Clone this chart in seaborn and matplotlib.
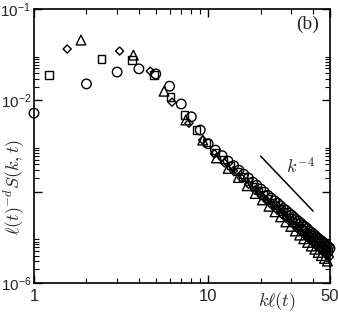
import numpy as np
import matplotlib
matplotlib.use("Agg")
import matplotlib.pyplot as plt
import matplotlib.ticker as mticker
import seaborn as sns

# --- datos (kl(t), log10 de l(t)^-d S(k,t)) ---
circle_k = [1, 2, 3, 4, 5, 6, 7, 8, 9, 10, 11, 12, 13, 14, 15, 16, 17, 18, 19, 20,
            21, 22, 23, 24, 25, 26, 27, 28, 29, 30, 31, 32, 33, 34, 35, 36, 37, 38,
            39, 40, 41, 42, 43, 44, 45, 46, 47, 48, 49, 50]
circle_logS = [-2.28, -1.64, -1.38, -1.31, -1.42, -1.69, -2.08, -2.36, -2.65, -2.95,
               -3.09, -3.21, -3.33, -3.43, -3.53, -3.62, -3.70, -3.79, -3.86, -3.94,
               -4.01, -4.08, -4.14, -4.20, -4.25, -4.31, -4.37, -4.41, -4.47, -4.51,
               -4.56, -4.61, -4.65, -4.69, -4.74, -4.77, -4.81, -4.86, -4.89, -4.92,
               -4.96, -5.00, -5.03, -5.06, -5.09, -5.12, -5.16, -5.18, -5.21, -5.24]

square_k = [1.22, 2.44, 3.66, 4.88, 6.10, 7.32, 8.54, 9.76, 10.98, 12.20, 13.42, 14.64,
            15.86, 17.08, 18.30, 19.52, 20.74, 21.96, 23.18, 24.40, 25.62, 26.84, 28.06,
            29.28, 30.50, 31.72, 32.94, 34.16, 35.38, 36.60, 37.82, 39.04, 40.26, 41.48,
            42.70, 43.92, 45.14, 46.36, 47.58, 48.80]
square_logS = [-1.445, -1.095, -1.12, -1.445, -1.93, -2.32, -2.65, -2.93, -3.14, -3.29,
               -3.43, -3.56, -3.68, -3.78, -3.88, -3.98, -4.07, -4.15, -4.23, -4.30,
               -4.37, -4.44, -4.51, -4.57, -4.63, -4.68, -4.74, -4.79, -4.84, -4.89,
               -4.94, -4.98, -5.03, -5.07, -5.11, -5.15, -5.19, -5.23, -5.27, -5.31]

diamond_k = [1.55, 3.10, 4.65, 6.20, 7.75, 9.30, 10.85, 12.40, 13.95, 15.50, 17.05,
             18.60, 20.15, 21.70, 23.25, 24.80, 26.35, 27.90, 29.45, 31.00, 32.55,
             34.10, 35.65, 37.20, 38.75, 40.30, 41.85, 43.40, 44.95, 46.50, 48.05, 49.60]
diamond_logS = [-0.876, -0.92, -1.36, -2.04, -2.50, -2.87, -3.17, -3.37, -3.54, -3.70,
                -3.84, -3.97, -4.09, -4.20, -4.30, -4.40, -4.49, -4.58, -4.66, -4.73,
                -4.81, -4.88, -4.94, -5.01, -5.07, -5.12, -5.18, -5.23, -5.29, -5.34,
                -5.39, -5.43]

triangle_k = [1.86, 3.72, 5.58, 7.44, 9.30, 11.16, 13.02, 14.88, 16.74, 18.60, 20.46,
              22.32, 24.18, 26.04, 27.90, 29.76, 31.62, 33.48, 35.34, 37.20, 39.06,
              40.92, 42.78, 44.64, 46.50, 48.36]
triangle_logS = [-0.68, -1.01, -1.80, -2.43, -2.87, -3.26, -3.49, -3.69, -3.87, -4.04,
                 -4.18, -4.32, -4.44, -4.55, -4.66, -4.76, -4.86, -4.95, -5.03, -5.11,
                 -5.19, -5.26, -5.33, -5.40, -5.46, -5.52]

# linea de referencia k^-4
guide_k = [20.0, 40.0]
guide_S = [6.0e-4, 3.75e-5]

sns.set_style("ticks")
plt.rcParams["font.family"] = ["Liberation Sans", "DejaVu Sans"]
plt.rcParams["mathtext.fontset"] = "cm"

fig = plt.figure(figsize=(3.38, 3.13), dpi=100)
ax = fig.add_axes([0.1006, 0.0958, 0.8757, 0.8754])

series = [
    (circle_k, circle_logS, "o", 47),
    (square_k, square_logS, "s", 28),
    (diamond_k, diamond_logS, "D", 17),
    (triangle_k, triangle_logS, "^", 49),
]
for k, logS, m, s in series:
    sns.scatterplot(x=k, y=np.power(10.0, logS), marker=m, s=s, facecolor="none",
                    edgecolor="black", linewidth=1.0, ax=ax, clip_on=False, zorder=3)

sns.lineplot(x=guide_k, y=guide_S, color="black", linewidth=1.1, ax=ax)
ax.text(33.7, 3.4e-4, r"$k^{-4}$", fontsize=13, ha="center", va="center")
ax.text(0.925, 0.945, "(b)", transform=ax.transAxes, fontsize=14,
        family="Liberation Serif", ha="center", va="center")

ax.set_xscale("log")
ax.set_yscale("log")
ax.set_xlim(1, 50)
ax.set_ylim(1e-6, 1e0)

ax.xaxis.set_major_locator(mticker.FixedLocator([1, 10, 50]))
ax.xaxis.set_major_formatter(mticker.FixedFormatter(["1", "10", "50"]))
ax.xaxis.set_minor_locator(mticker.FixedLocator([2, 3, 4, 5, 6, 7, 8, 9, 20, 30, 40]))
ax.xaxis.set_minor_formatter(mticker.NullFormatter())

ax.yaxis.set_major_locator(mticker.FixedLocator([1e-6, 1e-4, 1e-2, 1e0]))
ax.yaxis.set_major_formatter(mticker.FixedFormatter(
    [r"$\mathregular{10^{-6}}$", "", r"$\mathregular{10^{-2}}$", r"$\mathregular{10^{-1}}$"]))
ymin = [f * 10.0 ** e for e in (-6, -4, -2) for f in range(2, 10)]
ax.yaxis.set_minor_locator(mticker.FixedLocator(ymin))
ax.yaxis.set_minor_formatter(mticker.NullFormatter())

ax.tick_params(which="both", direction="in", top=True, right=True, color="black")
ax.tick_params(which="major", length=6, width=1.0)
ax.tick_params(which="minor", length=3.5, width=0.8)
ax.tick_params(axis="x", pad=4, labelsize=12)
ax.tick_params(axis="y", pad=2, labelsize=11)
for sp in ax.spines.values():
    sp.set_linewidth(1.2)
    sp.set_color("black")

ax.set_xlabel(r"$k\ell(t)$", fontsize=13)
ax.set_ylabel(r"$\ell(t)^{-d}S(k,t)$", fontsize=13)
ax.xaxis.set_label_coords(0.82, -0.025)
ax.yaxis.set_label_coords(-0.028, 0.35)

fig.savefig("out.png", dpi=100)
